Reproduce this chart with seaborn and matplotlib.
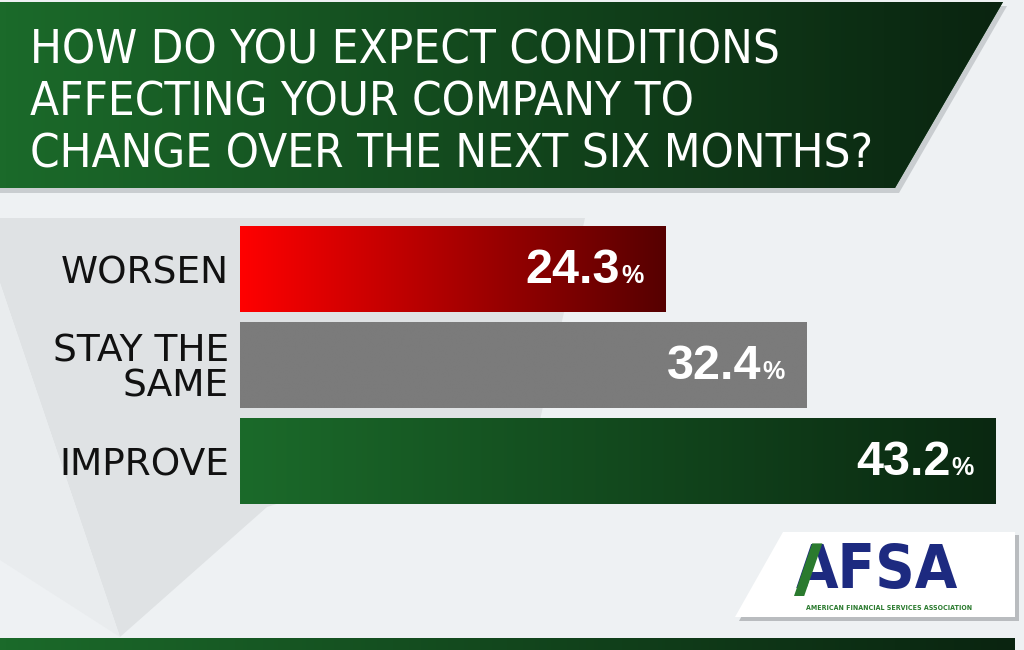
import numpy as np
import matplotlib
matplotlib.use("Agg")
import matplotlib.pyplot as plt
import seaborn as sns
from matplotlib.patches import Polygon, Rectangle
from matplotlib.colors import LinearSegmentedColormap
from matplotlib import font_manager as fm

# ---------------- data ----------------
categories = ["WORSEN", "STAY THE\nSAME", "IMPROVE"]
values = [24.3, 32.4, 43.2]
value_labels = ["24.3", "32.4", "43.2"]
title_lines = ["HOW DO YOU EXPECT CONDITIONS",
               "AFFECTING YOUR COMPANY TO",
               "CHANGE OVER THE NEXT SIX MONTHS?"]
bar_start = ["#ff0000", "#7b7b7b", "#1b6a2a"]
bar_end = ["#560000", "#7b7b7b", "#0a2811"]
logo_text = "AFSA"
logo_sub = "AMERICAN FINANCIAL SERVICES ASSOCIATION"

sns.set_theme(style="white")
available = {f.name for f in fm.fontManager.ttflist}
HAS_NARROW = "Liberation Sans Narrow" in available
NARROW = "Liberation Sans Narrow" if HAS_NARROW else "DejaVu Sans"
NARROW_STRETCH = "normal" if HAS_NARROW else "condensed"
plt.rcParams["font.family"] = ["DejaVu Sans"]

W, H = 1024, 650
fig = plt.figure(figsize=(W / 100, H / 100), dpi=100)

bg = fig.add_axes([0, 0, 1, 1])
bg.set_xlim(0, W)
bg.set_ylim(H, 0)
bg.axis("off")
bg.set_zorder(0)


def gradient(ax, x0, x1, y0, y1, c0, c1, clip, z):
    cmap = LinearSegmentedColormap.from_list("g", [c0, c1])
    im = ax.imshow(np.linspace(0, 1, 256)[None, :], extent=(x0, x1, y1, y0),
                   aspect="auto", cmap=cmap, zorder=z, interpolation="bilinear")
    im.set_clip_path(clip)
    return im


# background
bg.add_patch(Rectangle((0, 0), W, H, facecolor="#eef1f3", edgecolor="none", zorder=0))
bg.add_patch(Polygon([(0, 218), (585, 218), (540, 420), (267, 507), (120, 637), (0, 283)],
                     closed=True, facecolor="#dfe2e4", edgecolor="none", zorder=0.5))
bg.add_patch(Polygon([(0, 218), (0, 283), (120, 637), (0, 560)], closed=True,
                     facecolor="#e9ecee", edgecolor="none", zorder=0.6))

# title banner
bg.add_patch(Polygon([(0, 6), (1007, 6), (899, 193), (0, 193)], closed=True,
                     facecolor="#c9cdd0", edgecolor="none", zorder=1))
banner = Polygon([(0, 2), (1003, 2), (895, 188), (0, 188)], closed=True,
                 facecolor="#14501f", edgecolor="none", zorder=1.5)
bg.add_patch(banner)
gradient(bg, 0, 1003, 2, 188, "#1b6a2a", "#0a2410", banner, 2)
tsize = 38 if HAS_NARROW else 34
for i, line in enumerate(title_lines):
    bg.text(30, 64 + 52 * i, line, color="white", fontsize=tsize, family=NARROW,
            fontstretch=NARROW_STRETCH, ha="left", va="baseline", zorder=3)

# bottom band
band = Rectangle((0, 638), 1015, 12, facecolor="#14501f", edgecolor="none", zorder=1.5)
bg.add_patch(band)
gradient(bg, 0, 1015, 638, 650, "#1b6a2a", "#0a2410", band, 2)

# logo box
bg.add_patch(Polygon([(787, 535), (1019, 535), (1019, 621), (739, 621)], closed=True,
                     facecolor="#b9bcbf", edgecolor="none", zorder=1))
bg.add_patch(Polygon([(783, 532), (1015, 532), (1015, 617), (735, 617)], closed=True,
                     facecolor="white", edgecolor="none", zorder=1.5))
logo_kw = dict(fontsize=48 if HAS_NARROW else 44, fontweight="bold", family=NARROW,
               fontstretch=NARROW_STRETCH)
afsa_x, afsa_base = 796, 588
bg.text(afsa_x, afsa_base, logo_text, color="#1d2a80", ha="left", va="baseline",
        zorder=3, **logo_kw)
bg.text(889, 610, logo_sub, color="#2a7a2e", fontsize=5.0, fontweight="bold",
        family=NARROW, fontstretch=NARROW_STRETCH, ha="center", va="baseline", zorder=3)

# ---------------- bars ----------------
px_per_unit = 17.5
ax_left, ax_w = 240, 800
ax_top, ax_bot = 221, 509
ax = fig.add_axes([ax_left / W, 1 - ax_bot / H, ax_w / W, (ax_bot - ax_top) / H])
ax.set_zorder(2)
ax.patch.set_alpha(0)
sns.barplot(x=values, y=categories, hue=categories, palette=bar_start, orient="h",
            width=0.896, legend=False, saturation=1, ax=ax)
ax.set_xlim(0, ax_w / px_per_unit)
ax.set_ylim(2.5, -0.5)
for s in ax.spines.values():
    s.set_visible(False)
ax.set_xticks([])
ax.set_xlabel("")
ax.set_ylabel("")
ax.tick_params(axis="y", length=0, pad=8, labelsize=27, labelcolor="#111111")
for lab in ax.get_yticklabels():
    lab.set_linespacing(0.98)

for p, c0, c1 in zip(ax.patches, bar_start, bar_end):
    p.set_edgecolor("none")
    x0, y0 = p.get_x(), p.get_y()
    gradient(ax, x0, x0 + p.get_width(), y0, y0 + p.get_height(), c0, c1, p, 2.5)
ax.set_xlim(0, ax_w / px_per_unit)
ax.set_ylim(2.5, -0.5)

fig.canvas.draw()
renderer = fig.canvas.get_renderer()

# green leg of the logo's first "A", sized from the rendered glyph
tmp = bg.text(afsa_x, afsa_base, "A", ha="left", va="baseline", **logo_kw)
ext = tmp.get_window_extent(renderer)
a_w = ext.width
tmp.remove()
cap = 0.73 * logo_kw["fontsize"] * 100 / 72
leg = 0.24 * a_w
bg.add_patch(Polygon([(afsa_x - 2, afsa_base + 8), (afsa_x - 2 + leg, afsa_base + 8),
                      (afsa_x + a_w / 2 + leg / 2, afsa_base - cap),
                      (afsa_x + a_w / 2 - leg / 2, afsa_base - cap)], closed=True,
                     facecolor="#2a7a2e", edgecolor="none", zorder=4))

for p, txt in zip(ax.patches, value_labels):
    x_end = p.get_x() + p.get_width()
    yc = p.get_y() + p.get_height() / 2
    pct = ax.annotate("%", xy=(x_end, yc), xytext=(-22, -14), textcoords="offset pixels",
                      ha="right", va="baseline", color="white", fontsize=18,
                      fontweight="bold", family="Liberation Sans", zorder=5)
    w = pct.get_window_extent(renderer).width
    ax.annotate(txt, xy=(x_end, yc), xytext=(-22 - w - 1, -14), textcoords="offset pixels",
                ha="right", va="baseline", color="white", fontsize=35,
                fontweight="bold", family="Liberation Sans", zorder=5)

fig.savefig("out.png", dpi=100)
